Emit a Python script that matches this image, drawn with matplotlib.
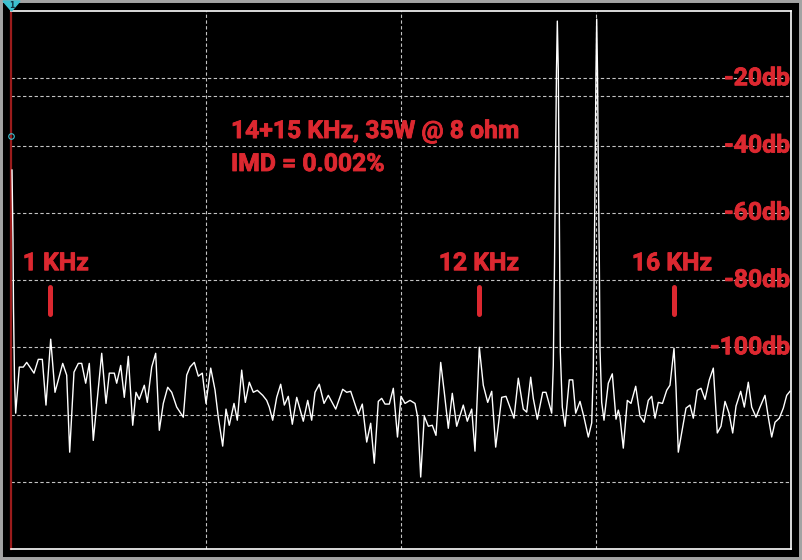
import matplotlib
matplotlib.use("Agg")
import matplotlib.pyplot as plt
import matplotlib.patheffects as pe
from matplotlib.patches import Rectangle, Polygon

# ---- data (frequency in kHz, level in dB) ----
freq_khz = [
    0.026, 0.051, 0.064, 0.09, 0.12, 0.213, 0.315, 0.403, 0.590, 0.700, 0.803, 0.897,
    1.018, 1.128, 1.326, 1.428, 1.505, 1.615, 1.726, 1.813, 1.915, 2.008, 2.110, 2.326,
    2.436, 2.521, 2.649, 2.710, 2.813, 2.905, 3.008, 3.121, 3.205, 3.290, 3.418, 3.495,
    3.608, 3.710, 3.803, 3.905, 4.018, 4.121, 4.249, 4.418, 4.505, 4.590, 4.700, 4.803,
    4.905, 5.0, 5.121, 5.231, 5.315, 5.428, 5.513, 5.597, 5.718, 5.803, 5.915, 6.008,
    6.110, 6.213, 6.315, 6.454, 6.556, 6.623, 6.710, 6.813, 6.915, 7.008, 7.110, 7.213,
    7.326, 7.495, 7.608, 7.710, 7.795, 7.905, 8.026, 8.136, 8.326, 8.505, 8.608, 8.710,
    8.905, 9.008, 9.121, 9.223, 9.315, 9.418, 9.505, 9.590, 9.700, 9.803, 9.910, 10.0,
    10.103, 10.231, 10.359, 10.428, 10.505, 10.597, 10.700, 10.803, 10.897, 11.018,
    11.110, 11.213, 11.315, 11.428, 11.597, 11.700, 11.813, 11.897, 12.008, 12.110,
    12.223, 12.326, 12.428, 12.582, 12.692, 12.897, 13.008, 13.136, 13.223, 13.326,
    13.392, 13.495, 13.633, 13.718, 13.864, 13.905, 13.936, 13.962, 13.987, 14.008,
    14.033, 14.051, 14.069, 14.085, 14.136, 14.205, 14.315, 14.403, 14.479, 14.590,
    14.692, 14.803, 14.890, 14.931, 14.956, 14.982, 15.0, 15.018, 15.038, 15.059,
    15.085, 15.103, 15.146, 15.205, 15.315, 15.418, 15.513, 15.572, 15.615, 15.700,
    15.803, 15.897, 16.018, 16.128, 16.231, 16.341, 16.428, 16.513, 16.597, 16.705,
    16.813, 16.897, 17.0, 17.051, 17.110, 17.197, 17.308, 17.410, 17.495, 17.597,
    17.692, 17.795, 17.905, 18.008, 18.110, 18.205, 18.308, 18.410, 18.505, 18.590,
    18.710, 18.803, 18.905, 18.992, 19.103, 19.205, 19.333, 19.418, 19.505, 19.590,
    19.700, 19.803, 19.890, 19.974,
]
level_db = [
    -47.3, -68.1, -88.3, -109.7, -119.6, -105.9, -105.9, -104.5, -107.7, -103.6, -103.6, -117.2,
    -97.6, -113.4, -104.8, -108.3, -131.2, -107.4, -104.8, -104.8, -110.7, -104.8, -127.7, -101.8,
    -116.7, -107.7, -107.7, -110.7, -105.4, -114.9, -102.7, -123.2, -113.4, -115.5, -111.3, -116.4,
    -105.9, -101.8, -124.7, -116.7, -111.9, -113.4, -117.8, -120.8, -108.3, -105.9, -104.5, -108.6,
    -107.7, -116.7, -106.2, -112.7, -120.8, -129.4, -118.4, -123.2, -116.7, -121.7, -106.8, -116.4,
    -110.4, -113.4, -112.8, -114.3, -115.8, -117.8, -121.7, -114.9, -111.0, -117.2, -114.6, -122.9,
    -114.9, -122.0, -115.8, -121.7, -113.4, -111.0, -116.7, -114.3, -118.4, -112.5, -113.4, -113.1,
    -119.9, -116.9, -128.2, -122.6, -134.5, -116.1, -115.2, -116.9, -116.9, -112.2, -126.7, -114.6,
    -116.7, -115.8, -116.7, -120.8, -138.6, -120.5, -123.5, -123.2, -126.2, -104.5,
    -113.4, -124.1, -113.7, -123.5, -117.2, -122.0, -118.4, -130.9, -100.0, -111.3,
    -116.4, -113.1, -129.7, -114.9, -114.6, -121.1, -109.2, -118.4, -119.3, -108.9,
    -115.2, -121.4, -113.4, -113.4, -119.6, -105.4, -75.5, -47.3, -17.5, -3.0,
    -17.5, -45.8, -74.1, -101.4, -117.8, -123.5, -109.7, -109.7, -119.6, -116.1,
    -120.8, -126.7, -122.5, -106.8, -75.5, -45.8, -17.5, -2.4, -17.5, -45.8,
    -74.1, -100.8, -116.4, -121.7, -110.7, -107.9, -121.4, -118.7, -120.8, -130.0,
    -115.8, -116.7, -111.6, -120.5, -122.3, -115.8, -114.6, -121.1, -116.4, -116.7,
    -112.8, -111.3, -100.3, -111.9, -131.2, -125.5, -118.1, -117.2, -121.1, -112.8,
    -112.2, -115.5, -109.7, -106.2, -125.5, -123.5, -116.1, -119.6, -125.5, -117.5,
    -113.1, -117.8, -110.4, -117.8, -120.8, -117.8, -114.3, -120.8, -126.7, -122.3,
    -121.1, -118.1, -114.3, -113.1,
]

db_labels = [-20, -40, -60, -80, -100]
db_label_texts = ["-20db", "-40db", "-60db", "-80db", "-100db"]
marker_freqs = [1, 12, 17]
marker_texts = ["1 KHz", "12 KHz", "16 KHz"]
marker_text_x = [1.15, 12.0, 16.95]
marker_range_db = (-90, -82)
cursor_db = -25.2
title_lines = ["14+15 KHz, 35W @ 8 ohm", "IMD = 0.002%"]

RED = "#dc2830"
FONT = ["Roboto", "DejaVu Sans"]
FS = 17.8
W, H = 802, 560
txt_kw = dict(color=RED, fontsize=FS, fontweight="bold", family=FONT, zorder=5,
              path_effects=[pe.withStroke(linewidth=0.6, foreground=RED)])

fig = plt.figure(figsize=(W / 100, H / 100), dpi=100, facecolor="black")
# grey outer frame
frame = Rectangle((0, 0), 1, 1, transform=fig.transFigure, facecolor="none",
                  edgecolor="#a3a3a3", linewidth=4.3, zorder=20)
fig.add_artist(frame)

ax = fig.add_axes([11 / W, 11 / H, 780 / W, 538 / H], facecolor="black")
ax.set_xlim(0, 20)
ax.set_ylim(-160, 0)
ax.set_xticks([])
ax.set_yticks([])
for side in ("top", "right", "bottom"):
    ax.spines[side].set_color("white")
    ax.spines[side].set_linewidth(1.2)
ax.spines["left"].set_color("#9b1c1c")
ax.spines["left"].set_linewidth(1.6)

grid_kw = dict(color="#c4c4c4", lw=0.8, ls=(0, (3, 2.2)), zorder=1)
for xv in (5, 10, 15):
    ax.axvline(xv, **grid_kw)
for yv in range(-140, 0, 20):
    ax.axhline(yv, **grid_kw)
ax.axhline(cursor_db, **grid_kw)

ax.plot(freq_khz, level_db, color="white", lw=1.0, zorder=3)

for f in marker_freqs:
    ax.plot([f, f], list(marker_range_db), color=RED, lw=3.6,
            solid_capstyle="round", zorder=4)
for tx, t in zip(marker_text_x, marker_texts):
    ax.text(tx, -75, t, ha="center", va="center", **txt_kw)

for v, t in zip(db_labels, db_label_texts):
    ax.text(0.9985, v, t, ha="right", va="center",
            transform=ax.get_yaxis_transform(), **txt_kw)

ax.text(5.64, -35.7, title_lines[0], ha="left", va="center", **txt_kw)
ax.text(5.64, -45.5, title_lines[1], ha="left", va="center", **txt_kw)

# channel marker and trigger circle
tri = Polygon([(3 / W, 1 - 1 / H), (20 / W, 1 - 1 / H), (11.5 / W, 1 - 11 / H)],
              closed=True, transform=fig.transFigure, facecolor="#3cc0d0",
              edgecolor="#3cc0d0", zorder=30)
fig.add_artist(tri)
fig.text(11.5 / W, 1 - 5 / H, "1", fontsize=5.5, color="#103040",
         ha="center", va="center", fontweight="bold", zorder=31)
ax.plot([0], [-37.2], marker="o", ms=4, mfc="none", mec="#3cc0d0",
        mew=0.8, clip_on=False, zorder=6)

fig.savefig("out.png", dpi=100, facecolor=fig.get_facecolor())
